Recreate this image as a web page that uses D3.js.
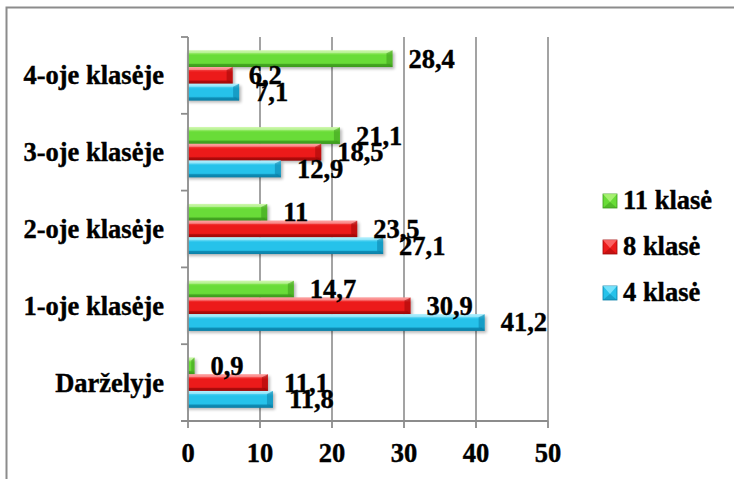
<!DOCTYPE html>
<html>
<head>
<meta charset="utf-8">
<script src="https://cdn.jsdelivr.net/npm/d3@7"></script>
<style>
  html, body { margin: 0; padding: 0; background: #fff; }
  svg { display: block; }
  text { font-family: "Liberation Serif", "Times New Roman", Tinos, serif; font-weight: bold; fill: #000; stroke: #000; stroke-width: 0.4px; }
</style>
</head>
<body>
<svg id="chart" width="734" height="479"></svg>
<script>
// ---- data ----
const categories = ["Darželyje", "1-oje klasėje", "2-oje klasėje", "3-oje klasėje", "4-oje klasėje"];
const seriesNames = ["11 klasė", "8 klasė", "4 klasė"];
const values11 = [0.9, 14.7, 11, 21.1, 28.4];
const values8  = [11.1, 30.9, 23.5, 18.5, 6.2];
const values4  = [11.8, 41.2, 27.1, 12.9, 7.1];
const xTicks = [0, 10, 20, 30, 40, 50];

const seriesValues = [values11, values8, values4];
const palette = [
  { light: "#b4f57e", main: "#69dc38", dark: "#3c9a1c" },
  { light: "#ff7272", main: "#ec1a1a", dark: "#a00808" },
  { light: "#8aeaff", main: "#26c2ea", dark: "#0a80a8" }
];

const svg = d3.select("#chart");
const defs = svg.append("defs");

palette.forEach((c, i) => {
  const g = defs.append("linearGradient").attr("id", "grad" + i)
    .attr("x1", 0).attr("y1", 0).attr("x2", 0).attr("y2", 1);
  g.append("stop").attr("offset", "0%").attr("stop-color", c.light);
  g.append("stop").attr("offset", "30%").attr("stop-color", c.main);
  g.append("stop").attr("offset", "75%").attr("stop-color", c.main);
  g.append("stop").attr("offset", "100%").attr("stop-color", c.dark);
});
const flt = defs.append("filter").attr("id", "shadow").attr("x", "-10%").attr("y", "-30%").attr("width", "130%").attr("height", "180%");
flt.append("feGaussianBlur").attr("stdDeviation", 1.6);

// outer frame
svg.append("path")
  .attr("d", "M6.5,490 L6.5,7.5 L740,7.5")
  .attr("fill", "none").attr("stroke", "#8c8c8c").attr("stroke-width", 2);

// scales
const x = d3.scaleLinear().domain([0, 50]).range([188, 548]);
const y = d3.scaleBand().domain(categories.slice().reverse()).range([37, 421]).padding(0);
const ys = d3.scaleBand().domain(seriesNames).range([0, y.bandwidth()]).paddingInner(0).paddingOuter(0.8);

const axisColor = "#8c8c8c";

// gridlines
svg.append("g").selectAll("line").data(xTicks.filter(t => t > 0)).join("line")
  .attr("x1", d => x(d)).attr("x2", d => x(d))
  .attr("y1", 37).attr("y2", 421)
  .attr("stroke", axisColor).attr("stroke-width", 1.6);

// bars
const bh = ys.bandwidth();
seriesValues.forEach((vals, si) => {
  const g = svg.append("g");
  const data = categories.map((cat, ci) => ({ cat, v: vals[ci] }));
  g.selectAll("rect.sh").data(data).join("rect")
    .attr("x", x(0)).attr("y", d => y(d.cat) + ys(seriesNames[si]) + 2)
    .attr("width", d => x(d.v) - x(0) + 2).attr("height", bh)
    .attr("fill", "#000").attr("opacity", 0.28).attr("filter", "url(#shadow)");
});
seriesValues.forEach((vals, si) => {
  const c = palette[si];
  const g = svg.append("g");
  const data = categories.map((cat, ci) => ({ cat, v: vals[ci] }));
  g.selectAll("rect.bar").data(data).join("rect")
    .attr("x", x(0)).attr("y", d => y(d.cat) + ys(seriesNames[si]))
    .attr("width", d => x(d.v) - x(0)).attr("height", bh)
    .attr("fill", `url(#grad${si})`);
  g.selectAll("path.top").data(data).join("path")
    .attr("d", d => {
      const x0 = x(0), x1 = x(d.v), t = y(d.cat) + ys(seriesNames[si]);
      const b = Math.min(3, (x1 - x0) / 2);
      return `M${x0},${t} L${x1},${t} L${x1 - b},${t + 3} L${x0},${t + 3} Z`;
    })
    .attr("fill", "#fff").attr("opacity", 0.35);
  g.selectAll("path.bot").data(data).join("path")
    .attr("d", d => {
      const x0 = x(0), x1 = x(d.v), t = y(d.cat) + ys(seriesNames[si]);
      const b = Math.min(3, (x1 - x0) / 2);
      return `M${x0},${t + bh} L${x1},${t + bh} L${x1 - b},${t + bh - 3} L${x0},${t + bh - 3} Z`;
    })
    .attr("fill", c.dark).attr("opacity", 0.7);
  g.selectAll("path.end").data(data).join("path")
    .attr("d", d => {
      const x0 = x(0), x1 = x(d.v), t = y(d.cat) + ys(seriesNames[si]);
      const b = Math.min(6, (x1 - x0) / 2);
      return `M${x1},${t} L${x1},${t + bh} L${x1 - b},${t + bh - 3} L${x1 - b},${t + 3} Z`;
    })
    .attr("fill", c.dark).attr("opacity", 0.55);
});

// axes lines
svg.append("line").attr("x1", 188).attr("x2", 188).attr("y1", 37).attr("y2", 421)
  .attr("stroke", axisColor).attr("stroke-width", 1.8);
svg.append("line").attr("x1", 181).attr("x2", 548).attr("y1", 421).attr("y2", 421)
  .attr("stroke", axisColor).attr("stroke-width", 1.8);
const boundaries = categories.slice().reverse().map(c => y(c)).concat([y.range()[1]]);
svg.append("g").selectAll("line").data(boundaries).join("line")
  .attr("x1", 181).attr("x2", 188).attr("y1", d => d).attr("y2", d => d)
  .attr("stroke", axisColor).attr("stroke-width", 1.8);
svg.append("g").selectAll("line").data(xTicks).join("line")
  .attr("x1", d => x(d)).attr("x2", d => x(d)).attr("y1", 421).attr("y2", 428)
  .attr("stroke", axisColor).attr("stroke-width", 1.8);

const FS = 26.5;
const fmt = v => String(v).replace(".", ",");

svg.append("g").selectAll("text").data(xTicks).join("text")
  .attr("x", d => x(d)).attr("y", 462)
  .attr("text-anchor", "middle").attr("font-size", FS)
  .text(d => d);

svg.append("g").selectAll("text").data(categories).join("text")
  .attr("x", 164).attr("y", d => y(d) + y.bandwidth() / 2 + 9)
  .attr("text-anchor", "end").attr("font-size", FS)
  .text(d => d);

seriesValues.forEach((vals, si) => {
  const data = categories.map((cat, ci) => ({ cat, v: vals[ci] }));
  svg.append("g").selectAll("text").data(data).join("text")
    .attr("x", d => x(d.v) + 16)
    .attr("y", d => y(d.cat) + ys(seriesNames[si]) + bh / 2 + 9)
    .attr("font-size", FS)
    .text(d => fmt(d.v));
});

const legend = svg.append("g");
seriesNames.forEach((name, si) => {
  const c = palette[si];
  const cy = 201 + si * 46;
  const gx = 603, s = 14;
  legend.append("rect").attr("x", gx).attr("y", cy - s / 2).attr("width", s).attr("height", s)
    .attr("fill", c.main).attr("stroke", c.dark).attr("stroke-width", 0.8);
  legend.append("path")
    .attr("d", `M${gx},${cy - s / 2} L${gx + s},${cy - s / 2} L${gx + s / 2},${cy + 1} Z`)
    .attr("fill", c.light).attr("opacity", 0.8);
  legend.append("path")
    .attr("d", `M${gx},${cy + s / 2} L${gx + s},${cy + s / 2} L${gx + s / 2},${cy + 1} Z`)
    .attr("fill", c.dark).attr("opacity", 0.5);
  legend.append("text")
    .attr("x", 623).attr("y", cy + 8)
    .attr("font-size", FS)
    .text(name);
});
</script>
</body>
</html>
